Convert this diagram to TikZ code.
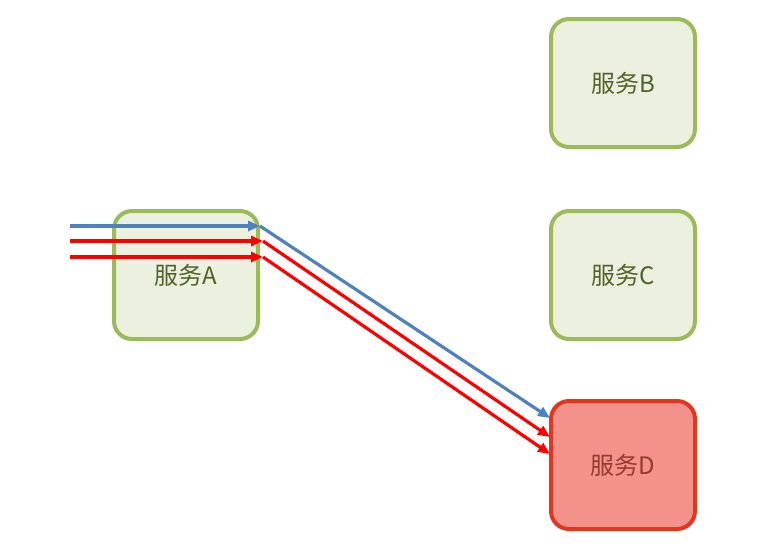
\documentclass[tikz,border=0pt]{standalone}
\usepackage{fontspec}
\newfontfamily\cjk{Noto Sans CJK SC}
\usepackage{xcolor}
\usetikzlibrary{arrows.meta,positioning,calc}
\definecolor{svcfill}{HTML}{EBF1DE}
\definecolor{svcline}{HTML}{9BBB59}
\definecolor{svctext}{HTML}{4F6228}
\definecolor{badfill}{HTML}{F2928A}
\definecolor{badline}{HTML}{E2361F}
\definecolor{badtext}{HTML}{953A2C}
\definecolor{callblue}{HTML}{4F81BD}

\begin{document}
\begin{tikzpicture}[x=1pt,y=-1pt,
  svc/.style={draw=svcline,fill=svcfill,line width=4pt,rounded corners=18pt,
              minimum width=144pt,minimum height=128pt,text=svctext,
              font=\cjk\fontsize{24}{28}\selectfont},
  bad/.style={svc,draw=badline,fill=badfill,text=badtext},
  call/.style={line width=3.2pt,-{Triangle[length=12pt,width=10pt]}}]
\useasboundingbox (0,0) rectangle (759,544);
\node[svc] (a) at (186,275) {服务A};
\node[svc] (b) at (623,83) {服务B};
\node[svc] (c) at (623,275) {服务C};
\node[bad] (d) at (623,465) {服务D};
% incoming calls, all routed through A towards D
\coordinate (in1) at (70,226);
\coordinate (in2) at (70,241);
\coordinate (in3) at (70,257);
\coordinate (a1) at (260,226);
\coordinate (a2) at (263,241);
\coordinate (a3) at (263,257);
\coordinate (d1) at (550,418);
\coordinate (d2) at (550,437);
\coordinate (d3) at (550,454);
\draw[call,callblue] (in1) -- (a1);
\draw[call,red] (in2) -- (a2);
\draw[call,red] (in3) -- (a3);
\draw[call,callblue] (a1) -- (d1);
\draw[call,red] (a2) -- (d2);
\draw[call,red] (a3) -- (d3);
\end{tikzpicture}
\end{document}
